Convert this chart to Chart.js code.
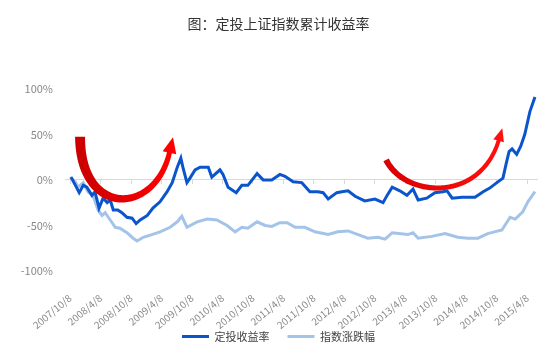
<!DOCTYPE html>
<html><head><meta charset="utf-8">
<script src="https://cdn.jsdelivr.net/npm/chart.js@4"></script>
<style>html,body{margin:0;padding:0;background:#fff;}canvas{display:block;}</style>
</head><body>
<canvas id="c" width="550" height="352"></canvas>
<script>
// X positions are months since 2007/10/8
const tickLabels = ['2007/10/8','2008/4/8','2008/10/8','2009/4/8','2009/10/8','2010/4/8','2010/10/8','2011/4/8','2011/10/8','2012/4/8','2012/10/8','2013/4/8','2013/10/8','2014/4/8','2014/10/8','2015/4/8'];
const seriesNames = ['定投收益率','指数涨跌幅'];

const dcaMonths = [0.2,1.8,2.6,3.3,4.3,4.9,5.7,6.5,7.3,7.9,8.5,9.4,10.2,11.2,12.2,13.0,13.8,15.2,16.3,17.7,19.1,20.1,21.1,21.8,22.2,23.0,23.6,24.6,25.6,27.2,27.9,29.5,30.1,31.1,32.7,33.8,35.0,36.8,38.0,39.7,41.3,42.3,43.9,45.6,47.2,48.8,49.8,50.8,52.5,53.5,54.7,56.1,58.0,60.0,61.6,62.4,63.4,64.9,66.3,67.5,68.5,70.2,71.8,73.4,74.2,75.2,77.1,79.7,81.3,82.6,84.0,85.2,85.8,86.4,87.0,87.9,88.7,89.5,90.5,91.5];
const dcaValues = [3,-14,-6,-8,-17,-13,-31,-20,-25,-22,-33,-33,-36,-41,-42,-48,-44,-39,-31,-24,-13,-3,14,24,14,-3,2,11,14,14,3,11,6,-8,-14,-6,-6,7,0,0,6,4,-2,-3,-13,-13,-14,-21,-14,-13,-12,-18,-23,-21,-25,-17,-8,-12,-17,-10,-22,-20,-14,-13,-12,-20,-19,-19,-13,-9,-3,2,17,31,34,28,37,50,75,91];

const idxMonths = [0,1,1.6,2.6,3.5,4.5,5.5,6.3,6.9,7.9,8.9,9.8,11.2,12.4,13.2,14.4,16.1,17.7,19.7,21.1,22.0,23.0,25.0,27.0,28.9,30.9,32.5,33.8,35.0,36.8,38.4,39.7,41.3,42.7,44.3,46.2,48.2,50.8,52.7,54.7,56.7,58.6,60.6,62.0,63.4,66.5,67.5,68.5,71.2,73.8,76.3,78.3,80.3,82.2,85.0,86.6,87.6,89.1,90.1,91.5];
const idxValues = [3,-2,-8,-3,-13,-17,-33,-39,-36,-44,-52,-53,-58,-64,-67,-63,-60,-57,-52,-46,-40,-52,-46,-43,-44,-50,-57,-52,-53,-46,-50,-51,-47,-47,-52,-52,-57,-60,-57,-56,-60,-64,-63,-65,-58,-60,-58,-64,-62,-59,-63,-64,-64,-59,-55,-41,-43,-35,-24,-13];

// Curved annotation arrows: cubic bezier control points in (month, %) coordinates
const arrowPaths = [
  [[1.97,47.3],[1.97,-40.5],[16.7,-40.5],[19.6,30.8]],
  [[62.2,22],[65.9,-19.8],[80.7,-25.3],[84.4,44]]
];
const arrowStyles = [
  {w0:10, w1:5, hw:14, hl:15, c0:'#cc0000', c1:'#ff0000'},
  {w0:6, w1:4, hw:11, hl:12, c0:'#d80000', c1:'#ff1010'}
];

const FONT = '"Noto Sans CJK SC","Noto Sans",sans-serif';
const tickValues = tickLabels.map((_, i) => i * 6);

const arrowPlugin = {
  id: 'arrows',
  afterLayout(chart) {
    // let the rotated date labels extend below the axis box without being clipped
    chart.scales.x.bottom = chart.height;
  },
  afterDatasetsDraw(chart) {
    const {ctx, scales} = chart;
    const xs = scales.x, ys = scales.y;
    arrowPaths.forEach((path, k) => {
      const st = arrowStyles[k];
      const P = path.map(p => [xs.getPixelForValue(p[0]), ys.getPixelForValue(p[1])]);
      const bez = t => {
        const u = 1 - t;
        return [
          u*u*u*P[0][0] + 3*u*u*t*P[1][0] + 3*u*t*t*P[2][0] + t*t*t*P[3][0],
          u*u*u*P[0][1] + 3*u*u*t*P[1][1] + 3*u*t*t*P[2][1] + t*t*t*P[3][1]
        ];
      };
      const der = t => {
        const u = 1 - t;
        return [
          3*u*u*(P[1][0]-P[0][0]) + 6*u*t*(P[2][0]-P[1][0]) + 3*t*t*(P[3][0]-P[2][0]),
          3*u*u*(P[1][1]-P[0][1]) + 6*u*t*(P[2][1]-P[1][1]) + 3*t*t*(P[3][1]-P[2][1])
        ];
      };
      const N = 80, L = [], R = [];
      for (let i = 0; i <= N; i++) {
        const t = i / N, p = bez(t), d = der(t);
        const len = Math.hypot(d[0], d[1]) || 1;
        const nx = -d[1] / len, ny = d[0] / len;
        const w = (st.w0 + (st.w1 - st.w0) * t) / 2;
        L.push([p[0] + nx * w, p[1] + ny * w]);
        R.push([p[0] - nx * w, p[1] - ny * w]);
      }
      const g = ctx.createLinearGradient(P[0][0], 0, P[3][0], 0);
      g.addColorStop(0, st.c0);
      g.addColorStop(1, st.c1);
      ctx.save();
      ctx.fillStyle = g;
      ctx.beginPath();
      ctx.moveTo(L[0][0], L[0][1]);
      L.forEach(p => ctx.lineTo(p[0], p[1]));
      for (let i = R.length - 1; i >= 0; i--) ctx.lineTo(R[i][0], R[i][1]);
      ctx.closePath();
      ctx.fill();
      const d = der(1), len = Math.hypot(d[0], d[1]);
      const dx = d[0]/len, dy = d[1]/len, nx = -dy, ny = dx;
      const b = P[3];
      ctx.fillStyle = st.c1;
      ctx.beginPath();
      ctx.moveTo(b[0] + nx*st.hw/2 - dx, b[1] + ny*st.hw/2 - dy);
      ctx.lineTo(b[0] + dx*st.hl, b[1] + dy*st.hl);
      ctx.lineTo(b[0] - nx*st.hw/2 - dx, b[1] - ny*st.hw/2 - dy);
      ctx.closePath();
      ctx.fill();
      ctx.restore();
    });
  }
};

const setTicks = s => { s.ticks = tickValues.map(v => ({value: v})); };

new Chart(document.getElementById('c'), {
  type: 'line',
  data: {
    datasets: [
      {label: seriesNames[0], data: dcaMonths.map((m, i) => ({x: m, y: dcaValues[i]})),
       borderColor: '#0b55cc', backgroundColor: '#0b55cc', borderWidth: 3, pointRadius: 0, tension: 0},
      {label: seriesNames[1], data: idxMonths.map((m, i) => ({x: m, y: idxValues[i]})),
       borderColor: '#a3c4e8', backgroundColor: '#a3c4e8', borderWidth: 3, pointRadius: 0, tension: 0}
    ]
  },
  options: {
    responsive: false,
    animation: false,
    devicePixelRatio: 1,
    layout: {padding: {left: 20, right: 13, top: 0, bottom: 0}},
    scales: {
      x: {
        type: 'linear', min: -1, max: 91.9,
        afterBuildTicks: setTicks,
        afterFit: s => { s.height = 42; s.paddingLeft = 0; s.paddingRight = 0; },
        grid: {display: false, drawTicks: false},
        border: {display: false},
        ticks: {autoSkip: false, minRotation: 40, maxRotation: 40, padding: 21,
                color: '#888', font: {family: FONT, size: 10},
                callback: v => tickLabels[Math.round(v / 6)]}
      },
      x0: {
        type: 'linear', min: -1, max: 91.9, position: {y: 0},
        afterBuildTicks: setTicks,
        grid: {display: true, drawOnChartArea: false, drawTicks: true, tickLength: 4, color: '#d9d9d9'},
        border: {display: true, color: '#d9d9d9'},
        ticks: {display: false}
      },
      y: {
        min: -100, max: 100,
        afterFit: s => { s.width = 45; },
        grid: {display: false, drawTicks: false},
        border: {display: false},
        ticks: {stepSize: 50, padding: 12, color: '#888', font: {family: FONT, size: 11},
                callback: v => v + '%'}
      }
    },
    plugins: {
      title: {display: true, text: '图：定投上证指数累计收益率', color: '#333',
              font: {family: FONT, size: 14, weight: 'normal'}, padding: {top: 15, bottom: 57}},
      legend: {position: 'bottom',
               labels: {boxWidth: 27, boxHeight: 3, padding: 18, color: '#444',
                        font: {family: FONT, size: 11},
                        generateLabels: ch => Chart.defaults.plugins.legend.labels.generateLabels(ch).map(l => Object.assign(l, {lineWidth: 0}))}},
      tooltip: {enabled: false}
    }
  },
  plugins: [arrowPlugin]
});
</script>
</body></html>
